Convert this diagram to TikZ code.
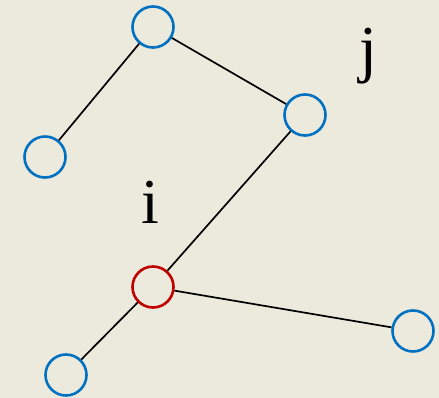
\documentclass[tikz,border=0pt]{standalone}
\usepackage{fontspec}
\setmainfont{Liberation Serif}
\definecolor{bg}{RGB}{236,234,220}
\definecolor{nblue}{RGB}{0,112,192}
\definecolor{nred}{RGB}{192,0,0}
\tikzset{
  vtx/.style={circle, draw=nblue, line width=2.6pt, minimum size=41pt, inner sep=0pt},
  rvtx/.style={vtx, draw=nred},
  edge/.style={line width=1.7pt, black},
  lbl/.style={font=\fontsize{64}{64}\selectfont, inner sep=0pt, anchor=base}
}
\begin{document}
\begin{tikzpicture}[x=1pt,y=-1pt]
\fill[bg] (0,0) rectangle (439,398);
\useasboundingbox (0,0) rectangle (439,398);
\node[vtx] (top) at (153,27) {};
\node[vtx] (j) at (305,115) {};
\node[vtx] (l) at (45,157) {};
\node[rvtx] (i) at (153,287) {};
\node[vtx] (bl) at (66,375) {};
\node[vtx] (r) at (413,331) {};
\draw[edge] (top) -- (l);
\draw[edge] (top) -- (j);
\draw[edge] (j) -- (i);
\draw[edge] (i) -- (bl);
\draw[edge] (i) -- (r);
\node[lbl] (lj) at (368,71) {j};
\node[lbl] (li) at (150,223) {i};
\end{tikzpicture}
\end{document}
